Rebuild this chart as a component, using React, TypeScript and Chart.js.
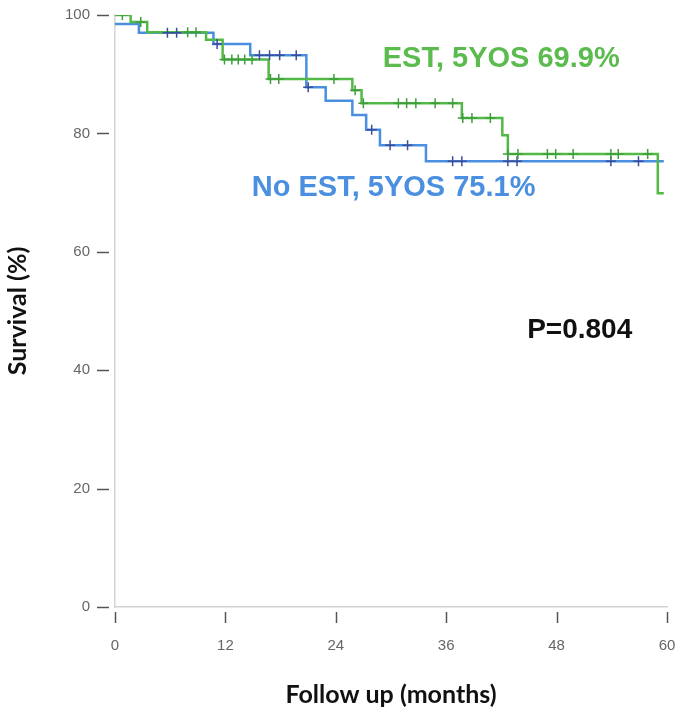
import React, { useEffect, useRef } from "react";
import { Chart, registerables } from "chart.js";

Chart.register(...registerables);

// Kaplan–Meier step points (months, survival %)
const estTimes = [0, 1.7, 3.5, 9.9, 11.7, 16.7, 25.8, 26.8, 37.7, 42.1, 42.7, 59.0, 59.65];
const estSurv = [100, 98.8, 97.1, 95.8, 92.5, 89.2, 87.3, 85.1, 82.6, 79.7, 76.5, 69.9, 69.9];

const noEstTimes = [0, 2.6, 10.7, 14.7, 20.8, 22.9, 25.8, 27.3, 28.8, 33.8, 59.65];
const noEstSurv = [98.5, 97.0, 95.1, 93.2, 87.8, 85.5, 83.1, 80.6, 78.0, 75.3, 75.3];

// Censored observations
const estCensorTimes = [0.8, 2.8, 7.9, 8.8, 11.9, 12.7, 13.4, 14.1, 14.9, 16.9, 17.8, 23.8, 26.1, 27.0, 30.8, 31.7, 32.7, 34.8, 36.7, 37.8, 38.8, 40.8, 42.7, 43.8, 47.0, 47.9, 49.8, 53.9, 54.7, 57.9];
const estCensorSurv = [100, 98.8, 97.1, 97.1, 92.5, 92.5, 92.5, 92.5, 92.5, 89.2, 89.2, 89.2, 87.3, 85.1, 85.1, 85.1, 85.1, 85.1, 85.1, 82.6, 82.6, 82.6, 76.5, 76.5, 76.5, 76.5, 76.5, 76.5, 76.5, 76.5];

const noEstCensorTimes = [5.7, 6.7, 11.1, 15.7, 16.8, 17.9, 19.7, 21.0, 27.9, 29.9, 31.8, 36.7, 37.7, 42.7, 43.7, 53.9, 56.9];
const noEstCensorSurv = [97.0, 97.0, 95.1, 93.2, 93.2, 93.2, 93.2, 87.8, 80.6, 78.0, 78.0, 75.3, 75.3, 75.3, 75.3, 75.3, 75.3];

const xTickValues = [0, 12, 24, 36, 48, 60];
const yTickValues = [0, 20, 40, 60, 80, 100];

const estLabel = "EST, 5YOS 69.9%";
const noEstLabel = "No EST, 5YOS 75.1%";
const pLabel = "P=0.804";

const GREEN = "#52b947";
const GREEN_DARK = "#3f9e3c";
const BLUE = "#4a8ee0";
const BLUE_DARK = "#3a4f9c";

const toPts = (xs: number[], ys: number[]) => xs.map((x, i) => ({ x, y: ys[i] }));

const zeroPad = (s: any) => {
  s.paddingTop = 0;
  s.paddingBottom = 0;
  s.paddingLeft = 0;
  s.paddingRight = 0;
};

const decor = {
  id: "decor",
  afterDraw(chart: any) {
    const { ctx, scales } = chart;
    const x = scales.x;
    const y = scales.y;
    ctx.save();
    ctx.strokeStyle = "#555";
    ctx.lineWidth = 1.5;
    yTickValues.forEach((v) => {
      const py = Math.round(y.getPixelForValue(v)) + 0.5;
      ctx.beginPath();
      ctx.moveTo(x.left - 18, py);
      ctx.lineTo(x.left - 6, py);
      ctx.stroke();
    });
    xTickValues.forEach((v) => {
      const px = Math.round(x.getPixelForValue(v)) + 0.5;
      ctx.beginPath();
      ctx.moveTo(px, y.bottom + 5);
      ctx.lineTo(px, y.bottom + 16);
      ctx.stroke();
    });
    ctx.font = "bold 29px 'Liberation Sans', Arial, sans-serif";
    ctx.textBaseline = "middle";
    ctx.textAlign = "left";
    ctx.fillStyle = "#5cbb4f";
    ctx.fillText(estLabel, x.getPixelForValue(29.1), y.getPixelForValue(92.6));
    ctx.textAlign = "right";
    ctx.fillStyle = "#4a8fe0";
    ctx.fillText(noEstLabel, x.getPixelForValue(45.7), y.getPixelForValue(70.8));
    ctx.textAlign = "left";
    ctx.fillStyle = "#111";
    ctx.font = "bold 28px 'Liberation Sans', Arial, sans-serif";
    ctx.fillText(pLabel, x.getPixelForValue(44.8), y.getPixelForValue(46.8));
    ctx.restore();
  },
};

export default function App() {
  const ref = useRef<HTMLCanvasElement | null>(null);
  useEffect(() => {
    if (!ref.current) return;
    const chart = new Chart(ref.current, {
      type: "line",
      data: {
        datasets: [
          {
            label: "EST censored",
            data: toPts(estCensorTimes, estCensorSurv),
            showLine: false,
            pointStyle: "cross",
            pointRadius: 5,
            pointBorderWidth: 1.5,
            pointBorderColor: GREEN_DARK,
            borderColor: GREEN_DARK,
            order: 0,
          },
          {
            label: "No EST censored",
            data: toPts(noEstCensorTimes, noEstCensorSurv),
            showLine: false,
            pointStyle: "cross",
            pointRadius: 5,
            pointBorderWidth: 1.5,
            pointBorderColor: BLUE_DARK,
            borderColor: BLUE_DARK,
            order: 1,
          },
          {
            label: "No EST",
            data: toPts(noEstTimes, noEstSurv),
            stepped: true,
            borderColor: BLUE,
            borderWidth: 2.5,
            pointRadius: 0,
            fill: false,
            order: 3,
          },
          {
            label: "EST",
            data: toPts(estTimes, estSurv),
            stepped: true,
            borderColor: GREEN,
            borderWidth: 2.5,
            pointRadius: 0,
            fill: false,
            order: 2,
          },
        ],
      },
      options: {
        responsive: false,
        animation: false,
        layout: { padding: { top: 15, right: 18, bottom: 0, left: 0 } },
        plugins: { legend: { display: false }, tooltip: { enabled: false } },
        scales: {
          x: {
            type: "linear",
            min: 0,
            max: 60,
            afterFit: (s: any) => {
              s.height = 113;
              zeroPad(s);
            },
            afterBuildTicks: (s: any) => {
              s.ticks = xTickValues.map((v) => ({ value: v }));
            },
            grid: { display: false, drawTicks: false },
            border: { display: true, color: "#d4d4d4", width: 1.5 },
            ticks: {
              padding: 30,
              color: "#666",
              font: { family: "'Liberation Sans Narrow', 'Liberation Sans', Arial", size: 15 },
            },
            title: {
              display: true,
              text: "Follow up (months)",
              color: "#111",
              font: { family: "Lato, 'Liberation Sans'", size: 25, weight: "bold" },
              padding: { top: 0, bottom: 10 },
            },
          },
          y: {
            type: "linear",
            min: 0,
            max: 100,
            afterFit: (s: any) => {
              s.width = 115;
              zeroPad(s);
            },
            afterBuildTicks: (s: any) => {
              s.ticks = yTickValues.map((v) => ({ value: v }));
            },
            grid: { display: false, drawTicks: false },
            border: { display: true, color: "#d4d4d4", width: 1.5 },
            ticks: {
              padding: 25,
              color: "#666",
              font: { family: "'Liberation Sans', Arial", size: 15 },
            },
            title: {
              display: true,
              text: "Survival (%)",
              color: "#111",
              font: { family: "Lato, 'Liberation Sans'", size: 25, weight: "bold" },
              padding: { top: 3, bottom: 0 },
            },
          },
        },
      },
      plugins: [decor],
    });
    return () => chart.destroy();
  }, []);
  return (
    <div style={{ position: "fixed", left: 0, top: 0, width: 685, height: 720, background: "#fff" }}>
      <canvas ref={ref} width={685} height={720} style={{ display: "block" }} />
    </div>
  );
}
